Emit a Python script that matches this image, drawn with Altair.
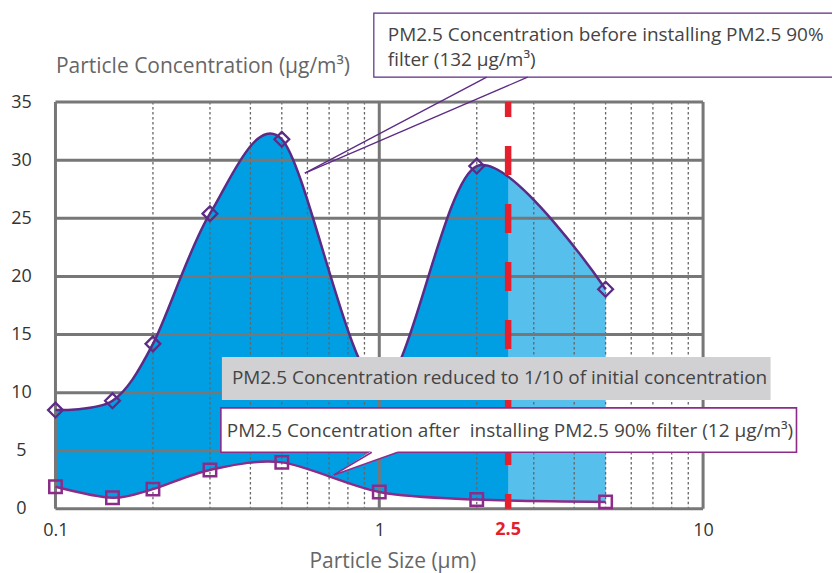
import altair as alt
import pandas as pd

# ---------------- data ----------------
sizes = [0.1, 0.15, 0.2, 0.3, 0.5, 1, 2, 5]
before = [8.5, 9.3, 14.2, 25.4, 31.8, 10.5, 29.5, 18.9]
after = [1.9, 0.95, 1.7, 3.35, 4.0, 1.45, 0.8, 0.6]

y_ticks = [0, 5, 10, 15, 20, 25, 30, 35]
x_label_values = [0.1, 1, 10]
cut_label = ["2.5"]
minor_x = [0.2, 0.3, 0.4, 0.5, 0.6, 0.7, 0.8, 0.9, 2, 3, 4, 5, 6, 7, 8, 9]
major_x = [0.1, 1, 10]
pm_cut = [2.5]
filtered_span = [2.5, 5]

txt_before = ["PM2.5 Concentration before installing PM2.5 90%", "filter (132 µg/m³)"]
txt_reduced = "PM2.5 Concentration reduced to 1/10 of initial concentration"
txt_after = "PM2.5 Concentration after\u00a0 installing PM2.5 90% filter (12 µg/m³)"

# annotation anchors (data coordinates)
box_before = dict(x=0.962, x2=28.0, y=42.65, y2=37.15)
box_before_text = dict(x=[1.062, 1.062], y=[40.25, 38.15])
ptr_before = dict(x=[0.589, 2.147, 0.589, 2.872], y=[28.89, 37.15, 28.89, 37.15], g=[0, 0, 1, 1])
box_reduced = dict(x=0.3266, x2=16.16, y=13.07, y2=9.37)
box_reduced_text = dict(x=0.3506, y=10.75)
box_after = dict(x=0.3242, x2=19.43, y=8.69, y2=4.87)
box_after_text = dict(x=0.3383, y=6.15)
wedge = dict(x=[0.724, 0.948, 1.141], y=[2.924, 5.0, 5.0], y2=[2.924, 4.04, 4.87])

FONT = "Open Sans"
PURPLE = "#5C2B86"
MAGENTA = "#8B2C89"
GRID = "#777777"
TENSION = 0.1

xs = alt.Scale(type="log", domain=[0.1, 10])
ys = alt.Scale(domain=[0, 35])

x_axis = alt.Axis(
    values=x_label_values, format="~g", labelFlush=False, labelOverlap=False,
    ticks=False, domain=False, grid=False,
    labelFont=FONT, labelFontSize=18, labelPadding=12.5, labelColor="#333333",
    title="Particle Size (µm)", titleFont=FONT, titleFontSize=21, titleFontWeight="normal",
    titleColor="#666666", titleX=337, titleY=59, titleAlign="center", titleBaseline="alphabetic",
)
y_axis = alt.Axis(
    values=y_ticks, ticks=False, domain=False, grid=False,
    labelFont=FONT, labelFontSize=18, labelPadding=34.5, labelAlign="center", labelColor="#333333",
    title="Particle Concentration (µg/m³)", titleFont=FONT, titleFontSize=21,
    titleFontWeight="normal", titleColor="#666666", titleAngle=0, titleX=0, titleY=-30,
    titleAlign="left", titleBaseline="alphabetic",
)


def X(f):
    return alt.X(f, scale=xs, axis=x_axis)


def Y(f):
    return alt.Y(f, scale=ys, axis=y_axis)


curves = pd.DataFrame({"size": sizes, "before": before, "after": after})

area = alt.Chart(curves).mark_area(color="#009FE3", interpolate="cardinal", tension=TENSION).encode(
    x=X("size:Q"), y=Y("before:Q"), y2="after:Q",
)

overlay = alt.Chart(pd.DataFrame({"a": [filtered_span[0]], "b": [filtered_span[1]], "lo": [0], "hi": [35]})).mark_rect(
    color="white", opacity=0.34
).encode(x=X("a:Q"), x2="b:Q", y=Y("lo:Q"), y2="hi:Q")

minor = alt.Chart(pd.DataFrame({"v": minor_x})).mark_rule(
    color="#666666", strokeWidth=1.3, strokeDash=[2.5, 2.5]
).encode(x=X("v:Q"))

hgrid = alt.Chart(pd.DataFrame({"v": y_ticks})).mark_rule(color=GRID, strokeWidth=3).encode(y=Y("v:Q"))
vgrid = alt.Chart(pd.DataFrame({"v": major_x})).mark_rule(color=GRID, strokeWidth=3).encode(x=X("v:Q"))

line_before = alt.Chart(curves).mark_line(color=PURPLE, strokeWidth=2.5, interpolate="cardinal", tension=TENSION).encode(
    x=X("size:Q"), y=Y("before:Q")
)
line_after = alt.Chart(curves).mark_line(color=MAGENTA, strokeWidth=2.5, interpolate="cardinal", tension=TENSION).encode(
    x=X("size:Q"), y=Y("after:Q")
)
pts_before = alt.Chart(curves).mark_point(shape="diamond", filled=False, size=220, strokeWidth=2.3, color=PURPLE, opacity=1).encode(
    x=X("size:Q"), y=Y("before:Q")
)
pts_after = alt.Chart(curves).mark_point(shape="square", filled=False, size=155, strokeWidth=2.5, color=MAGENTA, opacity=1).encode(
    x=X("size:Q"), y=Y("after:Q")
)

red = alt.Chart(pd.DataFrame({"v": pm_cut})).mark_rule(
    color="#E5202E", strokeWidth=6.5, strokeDash=[29, 29], strokeDashOffset=14
).encode(x=X("v:Q"))

red_label = alt.Chart(pd.DataFrame({"v": pm_cut, "t": cut_label})).mark_text(
    font=FONT, fontSize=18, fontWeight="bold", color="#E3202B", baseline="top", align="center"
).encode(x=X("v:Q"), y=alt.value(419.5), text="t:N")


def rect(b, fill, stroke=None, sw=0):
    kw = dict(fill=fill)
    if stroke:
        kw.update(stroke=stroke, strokeWidth=sw)
    return alt.Chart(pd.DataFrame({"x": [b["x"]], "x2": [b["x2"]], "y": [b["y"]], "y2": [b["y2"]]})).mark_rect(**kw).encode(
        x=X("x:Q"), x2="x2:Q", y=Y("y:Q"), y2="y2:Q"
    )


def text(xv, yv, s, color="#444444"):
    return alt.Chart(pd.DataFrame({"x": xv, "y": yv, "t": s})).mark_text(
        align="left", baseline="alphabetic", font=FONT, fontSize=19, color=color
    ).encode(x=X("x:Q"), y=Y("y:Q"), text="t:N")


box1 = rect(box_before, "white", PURPLE, 1.2)
ptr1 = alt.Chart(pd.DataFrame(ptr_before)).mark_line(color=PURPLE, strokeWidth=1.3).encode(
    x=X("x:Q"), y=Y("y:Q"), detail="g:N"
)
txt1 = text(box_before_text["x"], box_before_text["y"], txt_before)

box2 = rect(box_reduced, "#D1D1D3")
txt2 = text([box_reduced_text["x"]], [box_reduced_text["y"]], [txt_reduced])

box3 = rect(box_after, "white", MAGENTA, 1.6)
wedge_fill = alt.Chart(pd.DataFrame(wedge)).mark_area(color="white", opacity=1).encode(
    x=X("x:Q"), y=Y("y:Q"), y2="y2:Q"
)
wedge_edges = alt.Chart(pd.DataFrame({
    "x": [wedge["x"][0], wedge["x"][1], wedge["x"][0], wedge["x"][2]],
    "y": [wedge["y"][0], wedge["y2"][2], wedge["y"][0], wedge["y2"][2]],
    "g": [0, 0, 1, 1],
})).mark_line(color=MAGENTA, strokeWidth=1.6).encode(
    x=X("x:Q"), y=Y("y:Q"), detail="g:N"
)
txt3 = text([box_after_text["x"]], [box_after_text["y"]], [txt_after])

chart = alt.layer(
    area, overlay, minor, hgrid, vgrid, line_before, line_after, pts_before, pts_after, red, red_label,
    box1, ptr1, txt1, box2, txt2, box3, wedge_fill, wedge_edges, txt3,
).properties(
    width=648, height=407,
    padding={"left": 47.5, "top": 94, "right": 129, "bottom": 64},
    autosize=alt.AutoSizeParams(type="none"),
    background="white",
).configure_view(stroke=None)

chart.save("out.html", embed_options={"renderer": "svg", "actions": False})
